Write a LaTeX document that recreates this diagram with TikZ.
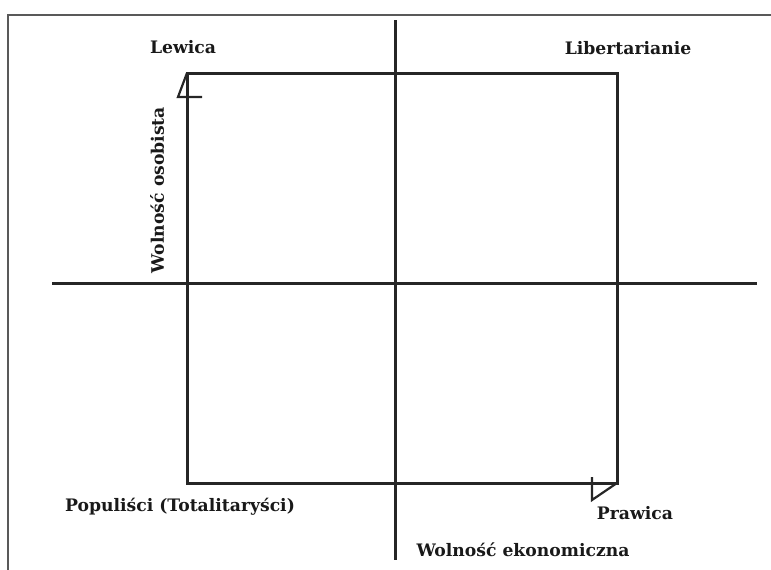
\documentclass[tikz,border=0pt]{standalone}
\usepackage{fontspec}
\setmainfont{DejaVu Serif}
\usetikzlibrary{positioning}

\begin{document}
\begin{tikzpicture}[
    x=1pt, y=-1pt,
    axis/.style={line width=3pt, color=black!85},
    quad/.style={line width=3pt, color=black!85, line join=miter},
    tip/.style={line width=2.2pt, color=black!85},
    label/.style={font=\bfseries\fontsize{17.2}{20}\selectfont, inner sep=0pt, color=black!90},
    border/.style={line width=2pt, color=gray!70!black}
]
\useasboundingbox (0,0) rectangle (771,570);

% page border
\draw[border] (8,570) |- (771,15);

% axes
\coordinate (west) at (52,283);
\coordinate (east) at (757,283);
\coordinate (north) at (395,20);
\coordinate (south) at (395,560);
\draw[axis] (west) -- (east);
\draw[axis] (north) -- (south);

% the square
\coordinate (tl) at (187,73);
\coordinate (tr) at (617,73);
\coordinate (br) at (617,483);
\coordinate (bl) at (187,483);
\draw[quad] (bl) -- (tl) -- (tr) -- (br) -- cycle;

% half arrow heads
\draw[tip] (tl) -- ++(-9,24) -- ++(24,0);
\draw[tip] (br) -- ++(-25,17) -- ++(0,-23);

% labels
\node[label] (lewica) at (183,47) {Lewica};
\node[label] (libert) at (628,48) {Libertarianie};
\node[label, rotate=90] (osob) at (157,190) {Wolność osobista};
\node[label] (popul) at (180,507) {Populiści (Totalitaryści)};
\node[label] (prawica) at (635,513) {Prawica};
\node[label] (ekon) at (523,550) {Wolność ekonomiczna};

\end{tikzpicture}
\end{document}
